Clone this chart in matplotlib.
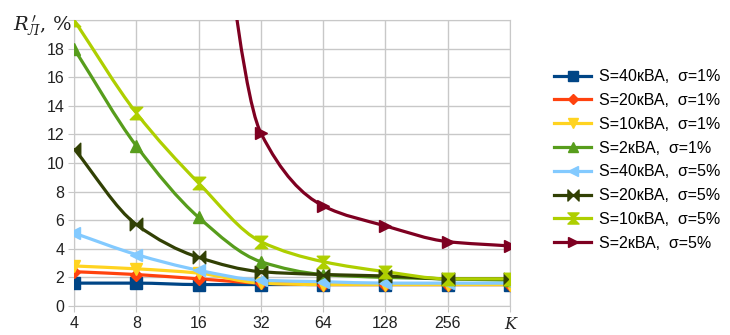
import numpy as np
import matplotlib
matplotlib.use("Agg")
import matplotlib.pyplot as plt
from matplotlib.path import Path
from matplotlib.patches import PathPatch
from matplotlib.lines import Line2D

plt.rcParams['font.family'] = ['Liberation Sans', 'DejaVu Sans']
plt.rcParams['mathtext.fontset'] = 'dejavuserif'

# -> categories on the x axis (last one is labelled K)
k_labels = ['4', '8', '16', '32', '64', '128', '256', 'K']

s40_1 = [1.6, 1.6, 1.5, 1.5, 1.5, 1.5, 1.5, 1.5]
s20_1 = [2.4, 2.2, 1.9, 1.6, 1.5, 1.5, 1.5, 1.5]
s10_1 = [2.8, 2.6, 2.3, 1.6, 1.5, 1.5, 1.5, 1.5]
s2_1 = [18.0, 11.2, 6.2, 3.1, 2.2, 2.0, 1.9, 1.8]
s40_5 = [5.1, 3.6, 2.5, 1.8, 1.7, 1.6, 1.6, 1.6]
s20_5 = [11.0, 5.7, 3.4, 2.4, 2.2, 2.1, 1.9, 1.9]
s10_5 = [20.0, 13.5, 8.6, 4.5, 3.1, 2.4, 1.9, 1.9]
s2_5 = [np.nan, np.nan, 40.0, 12.1, 7.0, 5.6, 4.5, 4.2]

names = ['S=40кВА,  σ=1%', 'S=20кВА,  σ=1%', 'S=10кВА,  σ=1%', 'S=2кВА,  σ=1%',
         'S=40кВА,  σ=5%', 'S=20кВА,  σ=5%', 'S=10кВА,  σ=5%', 'S=2кВА,  σ=5%']
series = [s40_1, s20_1, s10_1, s2_1, s40_5, s20_5, s10_5, s2_5]
colors = ['#004586', '#ff420e', '#ffd320', '#579d1c',
          '#83caff', '#314004', '#aecf00', '#7e0021']

bowtie = Path([(-1, 1), (-1, -1), (1, 1), (1, -1), (-1, 1)],
              [Path.MOVETO, Path.LINETO, Path.LINETO, Path.LINETO, Path.CLOSEPOLY])
sandglass = Path([(-1, 1), (1, 1), (-1, -1), (1, -1), (-1, 1)],
                 [Path.MOVETO, Path.LINETO, Path.LINETO, Path.LINETO, Path.CLOSEPOLY])
markers = ['s', 'D', 'v', '^', '<', bowtie, sandglass, '>']
msizes = [8, 6.5, 8.5, 8.5, 8.5, 9, 9, 8.5]


def smooth_path(x, y):
    # monotone cubic (Fritsch-Carlson) tangents, drawn as bezier segments
    ok = ~np.isnan(y)
    x, y = x[ok], y[ok]
    d = np.diff(y) / np.diff(x)
    m = np.zeros_like(y)
    m[0], m[-1] = d[0], d[-1]
    for i in range(1, len(y) - 1):
        if d[i - 1] * d[i] > 0:
            m[i] = 2 / (1 / d[i - 1] + 1 / d[i])
    verts = [(x[0], y[0])]
    codes = [Path.MOVETO]
    for i in range(len(y) - 1):
        h = x[i + 1] - x[i]
        verts += [(x[i] + h / 3, y[i] + m[i] * h / 3),
                  (x[i + 1] - h / 3, y[i + 1] - m[i + 1] * h / 3),
                  (x[i + 1], y[i + 1])]
        codes += [Path.CURVE4] * 3
    return Path(verts, codes)


fig = plt.figure(figsize=(7.30, 3.35), dpi=100)
ax = fig.add_axes([74 / 730, 1 - 306 / 335, (510 - 74) / 730, (306 - 20) / 335])

xs = np.arange(len(k_labels), dtype=float)
handles = []
for vals, name, col, mk, ms in zip(series, names, colors, markers, msizes):
    vals = np.array(vals, dtype=float)
    ax.add_patch(PathPatch(smooth_path(xs, vals), facecolor='none', edgecolor=col,
                           lw=2.3, zorder=3))
    ax.plot(xs, vals, linestyle='none', marker=mk, ms=ms, color=col, zorder=4)
    handles.append(Line2D([], [], color=col, lw=2.3, marker=mk, ms=ms - 1))

ax.set_xlim(0, 7)
ax.set_ylim(0, 20)
ax.set_xticks(xs)
ax.set_xticklabels(k_labels)
ax.set_yticks(range(0, 21, 2))
ax.set_yticklabels([str(v) for v in range(0, 19, 2)] + [''])
last = ax.get_xticklabels()[-1]
last.set_fontfamily('DejaVu Serif')
last.set_fontstyle('italic')
ax.grid(True, color='#c8c8c8', lw=1)
ax.set_axisbelow(True)
for sp in ax.spines.values():
    sp.set_color('#c8c8c8')
ax.tick_params(length=4, color='#c8c8c8', labelsize=11.5, labelcolor='#222222', pad=3)

fig.text(13 / 730, 1 - 26 / 335, r"$R^{\,\prime}_{Л}$, %", fontsize=14,
         family='DejaVu Serif', va='center', color='#222222')

fig.legend(handles, names, loc='center left', bbox_to_anchor=(540 / 730, 1 - 160 / 335),
           frameon=False, fontsize=11.5, handlelength=2.3, numpoints=1,
           labelspacing=0.55, handletextpad=0.5)

fig.savefig('out.png', dpi=100)
